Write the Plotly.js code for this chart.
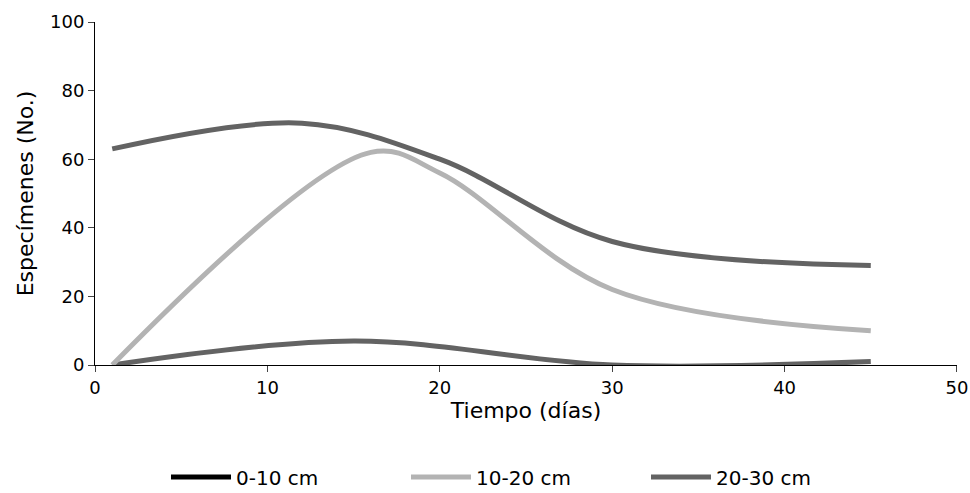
<!DOCTYPE html>
<html>
<head>
<meta charset="utf-8">
<script src="https://cdn.plot.ly/plotly-3.0.1.min.js"></script>
<style>body{margin:0}#chart{width:970px;height:493px}</style>
</head>
<body>
<div id="chart"></div>
<script>
const dias = [1, 15, 30, 45];
const prof0a10 = [0, 7, 0, 1];
const dias2 = [1, 16, 20, 30, 45];
const prof10a20 = [0, 62, 56, 22, 10];
const dias3 = [1, 12, 20, 30, 45];
const prof20a30 = [63, 70.5, 60, 36, 29];

const line = (c) => ({ shape: 'spline', smoothing: 1, width: 5, color: c });

const traces = [
    { x: dias, y: prof0a10, mode: 'lines', line: line('#636363'), showlegend: false, hoverinfo: 'skip' },
    { x: [null], y: [null], mode: 'lines', name: '0-10 cm', line: { width: 5, color: '#000000' } },
    { x: dias2, y: prof10a20, mode: 'lines', name: '10-20 cm', line: line('#b3b3b3') },
    { x: dias3, y: prof20a30, mode: 'lines', name: '20-30 cm', line: line('#636363') }
];

const layout = {
    width: 970, height: 493,
    margin: { l: 95, r: 13, t: 22, b: 128, autoexpand: false },
    font: { family: 'DejaVu Sans', size: 18, color: '#000' },
    paper_bgcolor: '#fff', plot_bgcolor: '#fff',
    xaxis: {
        title: { text: 'Tiempo (días)', standoff: 6 },
        range: [0, 50.001], dtick: 10, showgrid: false, zeroline: false, ticklabeloverflow: 'allow',
        showline: true, linecolor: '#000', linewidth: 1, ticks: 'outside', ticklen: 6
    },
    yaxis: {
        title: { text: 'Especímenes (No.)', standoff: 10 },
        range: [0, 100], dtick: 20, showgrid: false, zeroline: false,
        showline: true, linecolor: '#000', linewidth: 1, ticks: 'outside', ticklen: 6
    },
    legend: { orientation: 'h', x: 0.5, xanchor: 'center', y: -0.27, yanchor: 'top',
              font: { size: 20 }, itemwidth: 60, entrywidth: 165, tracegroupgap: 0 }
};

Plotly.newPlot('chart', traces, layout, { displayModeBar: false });
</script>
</body>
</html>
